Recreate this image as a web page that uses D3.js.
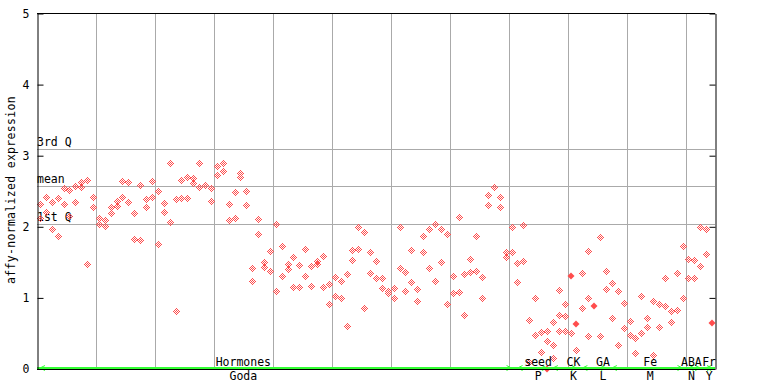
<!DOCTYPE html>
<html>
<head>
<meta charset="utf-8">
<script src="https://cdn.jsdelivr.net/npm/d3@7/dist/d3.min.js"></script>
<style>
  body { margin: 0; background: #fff; }
  text { font-family: "DejaVu Sans Mono", monospace; font-size: 11.5px; fill: #000; }
</style>
</head>
<body>
<div id="chart"></div>
<script>
// two replicates per sample (a third for a few), null = not visible
var rep1 = [2.31, 2.40, 2.335, 2.39, 2.53, 2.50, 2.555, 2.61, 2.64, 2.40,
    2.11, 2.08, 2.26, 2.345, 2.625, 2.61, 2.175, 2.575, 2.37, 2.625,
    2.485, 2.315, 2.89, 2.37, 2.64, 2.68, 2.67, 2.89, 2.58, 2.53,
    2.835, 2.89, 2.30, 2.47, 2.74, 2.485, 1.41, 2.09, 1.49, 1.64,
    2.02, 1.71, 1.46, 1.56, 1.445, 1.67, 1.43, 1.50, 1.57, 1.18,
    1.275, 1.22, 1.32, 1.655, 1.98, 1.91, 1.63, 1.50, 1.26, 1.08,
    1.12, 1.98, 1.345, 1.655, 1.11, 1.85, 1.95, 2.02, 1.95, 1.88,
    1.29, 2.12, 1.32, 1.53, 1.85, 1.275, 2.43, 2.54, 2.40, 1.63,
    1.98, 1.47, 2.01, 0.67, 0.99, 0.50, 0.52, 0.64, 1.095, 0.90,
    null, null, 1.33, 1.64, null, 1.84, 1.37, 1.19, 1.08, 0.91,
    0.66, 0.42, 1.01, 0.71, 0.94, 0.90, 1.27, 0.80, 1.33, 1.71,
    1.53, 1.515, 1.99, 1.95, null];
var rep2 = [2.11, 2.19, 1.955, 1.85, 2.30, 2.14, 2.33, 2.54, 1.46, 2.26,
    2.025, 2.00, 2.175, 2.28, 2.40, 2.33, 1.81, 1.795, 2.26, 2.40,
    1.74, 2.19, 2.05, 0.80, 2.39, 2.39, 2.60, 2.54, null, 2.345,
    2.72, 2.77, 2.08, 2.105, 2.68, 2.29, 1.22, 1.89, 1.42, 1.36,
    1.09, 1.29, 1.39, 1.135, 1.135, 1.29, 1.16, 1.46, 1.135, 0.90,
    1.01, 0.99, 0.59, 1.515, 1.67, 0.85, 1.33, 1.26, 1.12, 1.05,
    0.99, 1.40, 1.08, 1.205, 0.94, 1.63, 1.40, 1.22, 1.485, 0.895,
    1.05, 1.065, 0.74, 1.345, 1.37, 0.99, 2.29, null, 2.26, 1.56,
    1.63, 1.205, 1.50, 0.08, 0.46, 0.22, 0.375, 0.32, 0.75, 0.73,
    0.49, 0.25, 0.85, 0.98, null, 0.45, 1.105, 0.70, 0.32, 0.56,
    0.46, 0.21, 0.49, 0.57, 0.18, 0.58, 0.87, 0.64, 0.81, 0.99,
    1.27, 1.26, 1.44, 1.61, null];
var rep3 = {87: 0.14, 88: 0.52, 89: 0.516, 93: 0.45};
// samples drawn with a solid marker
var solid = {86: 0.0, 90: 1.31, 91: 0.63, 94: 0.89, 114: 0.64};

var groupNames = ["Hormones", "seed", "CK", "GA", "Fe", "ABA", "Fr"];
var groupCodes = ["Goda", "P", "K", "L", "M", "N", "Y"];
var groupStart = [0, 81, 87, 92, 97, 110, 113];
var groupEnd = [81, 87, 92, 97, 110, 113, 115];
var labelAt = [35, 85, 91, 96, 104, 111, 114];

var quartiles = [{name: "3rd Q", value: 3.10}, {name: "mean", value: 2.58}, {name: "1st Q", value: 2.04}];
var yTicks = [0, 1, 2, 3, 4, 5];

var width = 768,
    height = 384,
    nSamples = 115;

var x = d3.scaleLinear().domain([0, nSamples]).range([37, 715]);
var y = d3.scaleLinear().domain([0, 5]).range([369, 13.5]);

var svg = d3.select("#chart").append("svg")
    .attr("width", width)
    .attr("height", height);

// checker fill for the hollow markers
var pat = svg.append("defs").append("pattern")
    .attr("id", "dots")
    .attr("patternUnits", "userSpaceOnUse")
    .attr("width", 2).attr("height", 2);
pat.append("rect").attr("x", 0).attr("y", 0).attr("width", 1).attr("height", 1).attr("fill", "#ff4d4d");
pat.append("rect").attr("x", 1).attr("y", 1).attr("width", 1).attr("height", 1).attr("fill", "#ff4d4d");

// grid
svg.append("g").selectAll("line")
    .data(d3.range(10, nSamples, 10))
    .enter().append("line")
    .attr("x1", d => Math.round(x(d)) + 0.5).attr("x2", d => Math.round(x(d)) + 0.5)
    .attr("y1", y(5)).attr("y2", y(0))
    .attr("stroke", "#aaaaaa").attr("stroke-width", 1);

svg.append("g").selectAll("line")
    .data(quartiles)
    .enter().append("line")
    .attr("x1", x(0)).attr("x2", x(nSamples))
    .attr("y1", d => Math.round(y(d.value)) + 0.5).attr("y2", d => Math.round(y(d.value)) + 0.5)
    .attr("stroke", "#aaaaaa").attr("stroke-width", 1);

svg.append("g").selectAll("text")
    .data(quartiles)
    .enter().append("text")
    .attr("x", x(0))
    .attr("y", d => Math.round(y(d.value)) - 3)
    .text(d => d.name);

// points
var pts = [];
rep1.forEach(function (v, i) {
    if (v != null) pts.push({i: i, v: v});
    if (rep2[i] != null) pts.push({i: i, v: rep2[i]});
    if (rep3[i] != null) pts.push({i: i, v: rep3[i]});
});
var solidPts = Object.keys(solid).map(k => ({i: +k, v: solid[k]}));

var diamond = "M0,-4L4,0L0,4L-4,0Z";
svg.append("g").selectAll("path")
    .data(pts)
    .enter().append("path")
    .attr("d", diamond)
    .attr("transform", d => "translate(" + Math.round(x(d.i + 0.5)) + "," + Math.round(y(d.v)) + ")")
    .attr("fill", "url(#dots)")
    .attr("shape-rendering", "crispEdges");

svg.append("g").selectAll("path")
    .data(solidPts)
    .enter().append("path")
    .attr("d", "M0,-3.5L3.5,0L0,3.5L-3.5,0Z")
    .attr("transform", d => "translate(" + Math.round(x(d.i + 0.5)) + "," + Math.round(y(d.v)) + ")")
    .attr("fill", "#ff4d4d");

// group line along the bottom
svg.append("line")
    .attr("x1", x(0)).attr("x2", x(nSamples))
    .attr("y1", 368).attr("y2", 368)
    .attr("stroke", "#33ff33").attr("stroke-width", 2);

var arrows = svg.append("g").attr("stroke", "#33ff33").attr("fill", "none").attr("stroke-width", 1);
groupStart.forEach(function (s, k) {
    var a = x(s) + 3, b = x(groupEnd[k]) - 3;
    arrows.append("path").attr("d", "M" + (a + 5) + ",365.5L" + a + ",368L" + (a + 5) + ",370.5");
    arrows.append("path").attr("d", "M" + (b - 5) + ",365.5L" + b + ",368L" + (b - 5) + ",370.5");
});

svg.append("g").selectAll("text")
    .data(groupNames)
    .enter().append("text")
    .attr("x", (d, k) => x(labelAt[k]))
    .attr("y", 366)
    .attr("text-anchor", "middle")
    .text(d => d);

svg.append("g").selectAll("text")
    .data(groupCodes)
    .enter().append("text")
    .attr("x", (d, k) => x(labelAt[k]))
    .attr("y", 380)
    .attr("text-anchor", "middle")
    .text(d => d);

// frame and axes
svg.append("line").attr("x1", x(0)).attr("x2", x(nSamples)).attr("y1", 13.5).attr("y2", 13.5).attr("stroke", "#000");
svg.append("line").attr("x1", x(0)).attr("x2", x(nSamples)).attr("y1", 369.5).attr("y2", 369.5).attr("stroke", "#000");

var yAxis = svg.append("g")
    .attr("transform", "translate(37.5,0)")
    .call(d3.axisLeft(y).tickValues(yTicks).tickFormat(d3.format("d"))
        .tickSize(-6).tickSizeOuter(0).tickPadding(8));
yAxis.selectAll("text").style("font-family", "DejaVu Sans Mono").style("font-size", "11.5px");

svg.append("g")
    .attr("transform", "translate(715.5,0)")
    .call(d3.axisRight(y).tickValues(yTicks).tickSize(-6).tickSizeOuter(0).tickFormat(""));

svg.selectAll(".domain").attr("stroke", "#000");
svg.selectAll(".tick line").attr("stroke", "#000");

svg.append("text")
    .attr("transform", "translate(15,190) rotate(-90)")
    .attr("text-anchor", "middle")
    .style("letter-spacing", "0.3px")
    .text("affy-normalized expression");
</script>
</body>
</html>
